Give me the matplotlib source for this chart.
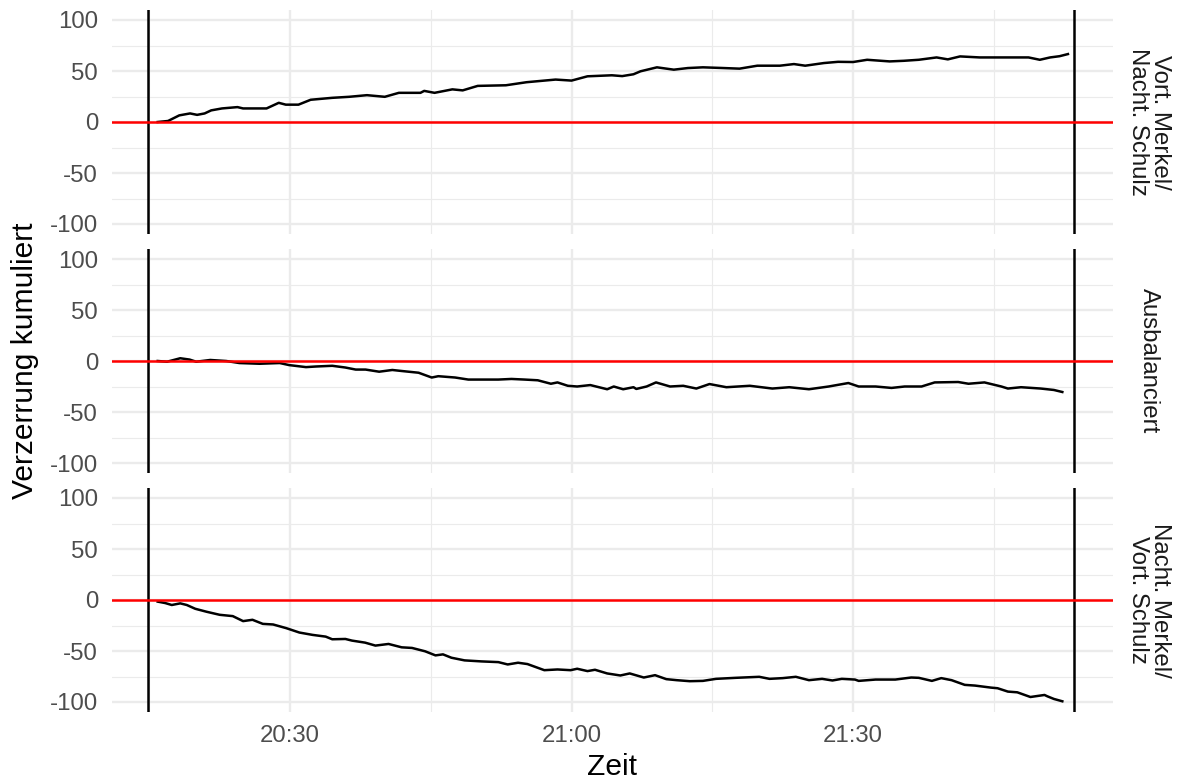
import matplotlib
matplotlib.use("Agg")
import matplotlib.pyplot as plt
import numpy as np

plt.rcParams['font.family'] = ['Liberation Sans', 'DejaVu Sans']

# ---- data: minutes after 20:00, cumulative distortion ----
panel_labels = ["Vort. Merkel/\nNacht. Schulz", "Ausbalanciert", "Nacht. Merkel/\nVort. Schulz"]

t1 = [15.9, 17.0, 18.2, 19.35, 20.1, 20.9, 21.6, 22.75, 24.4, 25.0, 27.5, 28.8, 29.55, 30.9,
      32.2, 34.5, 36.3, 38.2, 40.1, 41.6, 43.9, 44.3, 45.4, 47.3, 48.4, 50.0, 53.0, 55.2,
      58.3, 60.0, 61.7, 64.3, 65.4, 66.6, 67.35, 69.1, 70.9, 72.4, 74.0, 75.9, 77.9, 79.8,
      82.2, 83.7, 84.9, 86.9, 88.4, 90.0, 91.5, 93.9, 95.4, 97.0, 98.9, 100.1, 101.4,
      103.5, 105.6, 108.7, 109.9, 111.0, 112.0, 112.9]
v1 = [0, 1, 6.5, 8.4, 7, 8.4, 11.4, 13.3, 14.6, 13.3, 13.3, 18.8, 17, 17,
      21.8, 23.7, 24.7, 26.3, 24.7, 28.6, 28.6, 30.5, 28.6, 32, 31, 35.4, 36, 39,
      41.6, 40.6, 44.8, 45.8, 45, 46.8, 49.7, 53.6, 51.3, 52.9, 53.6, 53, 52.3, 55.2,
      55.2, 56.8, 55.2, 57.8, 59, 58.8, 61, 59.4, 60, 61, 63.3, 61.4, 64.3,
      63.3, 63.3, 63.3, 61, 63.3, 64.5, 66.6]

t2 = [15.9, 16.9, 18.3, 19.3, 20.0, 21.5, 23.2, 24.6, 26.75, 28.9, 29.9, 31.7, 32.75, 34.5,
      35.9, 37.0, 38.05, 39.5, 40.9, 41.9, 43.7, 45.1, 45.8, 47.6, 49.0, 52.2, 53.6, 55.0,
      56.4, 57.8, 58.5, 59.6, 60.6, 62.0, 63.8, 64.5, 65.5, 66.6, 66.9, 68.0, 69.0, 70.5,
      71.9, 73.3, 74.7, 76.5, 79.0, 81.4, 83.2, 85.3, 87.4, 89.5, 90.6, 92.4, 94.1, 95.5,
      97.3, 98.7, 101.2, 102.3, 104.0, 105.8, 106.5, 107.9, 110.0, 111.4, 112.3]
v2 = [0, -0.7, 2.7, 1.4, -0.7, 1, 0, -2, -2.7, -2, -4, -6, -5.4, -4.7,
      -6.4, -8.4, -8.4, -10.5, -8.8, -9.8, -11.5, -16.2, -14.9, -16.2, -18.2, -18.2, -17.6, -18.2,
      -18.9, -22.3, -21, -24.3, -25, -23.6, -27.7, -25, -27.7, -25.7, -27.4, -25, -21, -25,
      -24.3, -27, -22.6, -25.7, -24.3, -27, -25.7, -27.7, -25, -21.6, -25, -25, -26.4, -25,
      -25, -21, -20.6, -22.3, -21, -25, -27, -25.7, -27, -28.4, -30.4]

t3 = [15.9, 16.7, 17.4, 18.3, 19.0, 19.9, 21.1, 22.5, 23.9, 25.0, 26.0, 27.1, 28.2, 29.6,
      31.0, 32.4, 33.8, 34.5, 35.9, 36.6, 38.0, 39.1, 40.5, 41.9, 43.0, 44.4, 45.5, 46.3,
      47.2, 48.6, 50.4, 52.2, 53.2, 54.3, 55.3, 57.1, 58.5, 59.9, 60.6, 61.7, 62.5, 63.8,
      65.2, 66.2, 67.7, 68.9, 70.1, 71.2, 72.6, 74.0, 75.4, 77.5, 80.0, 81.1, 82.5, 83.9,
      85.3, 86.7, 87.8, 88.8, 90.2, 90.6, 92.4, 94.5, 96.2, 97.0, 98.4, 99.4, 100.5, 101.9,
      103.0, 104.7, 105.4, 106.5, 107.5, 108.9, 110.4, 110.7, 111.4, 112.3]
v3 = [-1.6, -3, -4.9, -3.3, -4.9, -8.6, -11.5, -14.5, -15.8, -20.7, -19.4, -23.4, -24, -27.6,
      -31.9, -34.2, -35.9, -38.5, -38.2, -39.8, -41.8, -44.7, -43.1, -46.4, -47, -50.3, -54.3, -53.3,
      -56.6, -59.2, -60.2, -60.9, -63.2, -61.5, -62.8, -68.8, -68.1, -68.8, -67.4, -69.7, -68.4, -72,
      -74, -72, -76, -73.7, -77.6, -78.6, -79.6, -79.3, -77.3, -76.3, -75.3, -77.3, -76.6, -75.3,
      -78.6, -77.3, -78.9, -77.3, -78, -79.3, -78, -78, -76, -76.3, -79.3, -76.6, -78.6, -83.2,
      -83.9, -85.9, -86.5, -89.8, -90.5, -95.1, -93.1, -94.4, -97, -99.3]

series_t = [t1, t2, t3]
series_v = [v1, v2, v3]

debate_bounds = [14.9, 113.5]          # vertical markers (20:15 / 21:53)
x_major = [30, 60, 90]
x_major_labels = ["20:30", "21:00", "21:30"]
x_minor = [15, 45, 75, 105]
y_major = [-100, -50, 0, 50, 100]
y_major_labels = ["-100", "-50", "0", "50", "100"]
y_minor = [-75, -25, 25, 75]

W, H = 1177, 782
fig = plt.figure(figsize=(W / 100, H / 100), dpi=100)
fig.patch.set_facecolor('white')

left, right = 112 / W, 1113 / W
tops = [9.8, 248.8, 487.8]
ph = 224.4
tick_fs = 17.3

axes = []
for i in range(3):
    bottom = 1 - (tops[i] + ph) / H
    ax = fig.add_axes([left, bottom, right - left, ph / H])
    axes.append(ax)
    ax.set_xlim(11.03, 117.7)
    ax.set_ylim(-110, 110)
    for s in ax.spines.values():
        s.set_visible(False)
    ax.set_xticks(x_major)
    ax.set_xticks(x_minor, minor=True)
    ax.set_yticks(y_major)
    ax.set_yticks(y_minor, minor=True)
    ax.set_yticklabels(y_major_labels)
    if i == 2:
        ax.set_xticklabels(x_major_labels)
    else:
        ax.set_xticklabels([])
    ax.tick_params(which='both', length=0)
    ax.tick_params(axis='y', which='major', pad=10, labelsize=tick_fs, labelcolor='#4D4D4D')
    ax.tick_params(axis='x', which='major', pad=9, labelsize=tick_fs, labelcolor='#4D4D4D')
    ax.grid(which='major', color='#EBEBEB', lw=1.7, zorder=0)
    ax.grid(which='minor', color='#EBEBEB', lw=0.85, zorder=0)
    ax.set_axisbelow(True)

    ax.plot(series_t[i], series_v[i], color='black', lw=1.8, zorder=3, solid_joinstyle='round')
    for xb in debate_bounds:
        ax.axvline(xb, color='black', lw=1.8, zorder=4)
    ax.axhline(0, color='red', lw=1.8, zorder=5)

    yc = 1 - (tops[i] + ph / 2) / H
    fig.text(1149 / W, yc, panel_labels[i], rotation=-90, ha='center', va='center',
             fontsize=tick_fs, color='#1A1A1A', multialignment='center', linespacing=1.0)

fig.text(25 / W, 1 - 361 / H, "Verzerrung kumuliert", rotation=90, ha='center', va='center',
         fontsize=21.6, color='black')
fig.text(612.5 / W, 1 - 767 / H, "Zeit", ha='center', va='center', fontsize=21.6, color='black')

fig.savefig("out.png", dpi=100, facecolor='white')
